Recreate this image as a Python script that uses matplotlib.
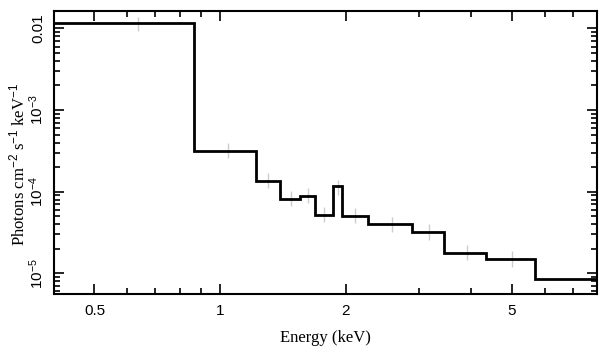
import matplotlib
matplotlib.use("Agg")
import matplotlib.pyplot as plt
from matplotlib.ticker import FixedLocator, LogLocator, NullFormatter
import numpy as np

# Bin edges of the folded model (keV) and its level in each bin
edges = [0.4, 0.867, 1.221, 1.395, 1.558, 1.690, 1.867, 1.957, 2.269, 2.885, 3.446, 4.35, 5.68, 8.0]
model = [0.0115, 3.18e-4, 1.35e-4, 8.2e-5, 8.86e-5, 5.24e-5, 1.17e-4, 5.08e-5, 3.99e-5, 3.18e-5, 1.79e-5, 1.51e-5, 8.5e-6]

# Data points (grey error bars)
data_e = [0.636, 1.047, 1.302, 1.477, 1.626, 1.777, 1.914, 2.107, 2.577, 3.164, 3.90, 5.0]
data_y = [0.0112, 3.2e-4, 1.37e-4, 8.3e-5, 8.9e-5, 5.3e-5, 1.12e-4, 5.1e-5, 4.0e-5, 3.2e-5, 1.8e-5, 1.5e-5]
data_frac = [0.22, 0.24, 0.24, 0.24, 0.24, 0.24, 0.24, 0.24, 0.24, 0.24, 0.24, 0.24]

xticks = [0.5, 1, 2, 5]
xticklabels = ["0.5", "1", "2", "5"]
yticks = [1e-5, 1e-4, 1e-3, 1e-2]
yticklabels = ["10$^{-5}$", "10$^{-4}$", "10$^{-3}$", "0.01"]

plt.rcParams['mathtext.fontset'] = 'custom'
plt.rcParams['mathtext.rm'] = 'Liberation Sans'
plt.rcParams['mathtext.it'] = 'Liberation Sans'

fig = plt.figure(figsize=(6.09, 3.57), dpi=100)
ax = fig.add_axes([0.0887, 0.1765, 0.8913, 0.7925])

# grey error bars for the data
y = np.array(data_y)
f = np.array(data_frac)
ax.errorbar(data_e, data_y, yerr=[y - y / (1 + f), y * f], fmt='none',
            ecolor='#cccccc', elinewidth=1.0, capsize=0, zorder=1)

# model as a step line
ax.stairs(model, edges, color='black', linewidth=2.0, baseline=None, zorder=2)

ax.set_xscale('log')
ax.set_yscale('log')
ax.set_xlim(0.4, 8.0)
ax.set_ylim(5.58e-6, 0.0163)

ax.xaxis.set_major_locator(FixedLocator(xticks))
ax.set_xticklabels(xticklabels)
ax.xaxis.set_minor_locator(FixedLocator([0.4, 0.6, 0.7, 0.8, 0.9, 3, 4, 6, 7, 8]))
ax.xaxis.set_minor_formatter(NullFormatter())

ax.yaxis.set_major_locator(FixedLocator(yticks))
ax.set_yticklabels(yticklabels, rotation=90, va='center')
ax.yaxis.set_minor_locator(LogLocator(base=10, subs=np.arange(2, 10), numticks=20))
ax.yaxis.set_minor_formatter(NullFormatter())

ax.tick_params(which='both', direction='in', top=True, right=True, width=1.2,
               labelsize=11)
ax.tick_params(which='major', length=7)
ax.tick_params(which='minor', length=4)
ax.tick_params(axis='x', pad=7)
ax.tick_params(axis='y', pad=6)
for lab in ax.get_xticklabels() + ax.get_yticklabels():
    lab.set_family('Liberation Sans')

for s in ax.spines.values():
    s.set_linewidth(1.5)

ax.set_xlabel("Energy (keV)", family='Liberation Serif', fontsize=12, labelpad=9)
ax.set_ylabel("Photons cm$^{-2}$ s$^{-1}$ keV$^{-1}$", family='Liberation Serif',
              fontsize=12)
ax.yaxis.set_label_coords(-0.048, 0.459)

fig.savefig("out.png", dpi=100)
